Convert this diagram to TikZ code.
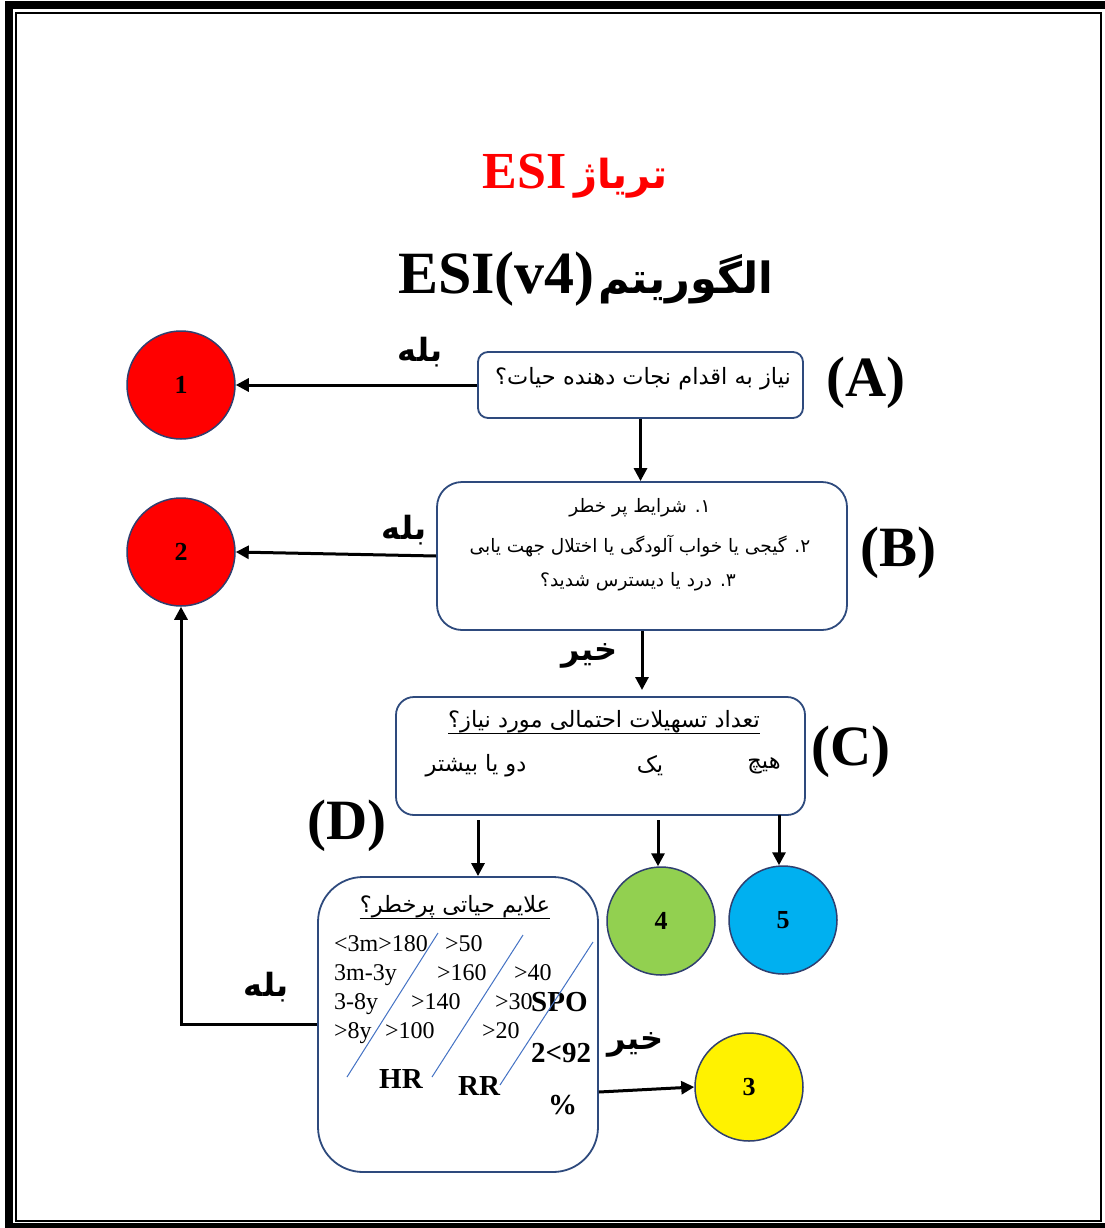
\documentclass[tikz,border=0pt]{standalone}
\usepackage{fontspec}
\setmainfont{Liberation Serif}
\newfontfamily\fa[Script=Arabic]{DejaVu Sans}
\TeXXeTstate=1
\usetikzlibrary{arrows.meta}
\definecolor{boxblue}{HTML}{2E4A7D}
\definecolor{circblue}{HTML}{2F3F6F}
\definecolor{diagblue}{HTML}{4472C4}
\definecolor{esigreen}{HTML}{92D050}
\definecolor{esicyan}{HTML}{00B0F0}
\begin{document}
\begin{tikzpicture}[x=1pt,y=-1pt,
  box/.style={draw=boxblue, line width=1.8pt, fill=white},
  circ/.style={circle, draw=circblue, line width=1.5pt, minimum size=108pt, inner sep=0pt, font=\fontsize{26}{26}\selectfont\bfseries},
  conn/.style={line width=3pt, -{Triangle[length=13pt,width=13pt]}},
  lbl/.style={font=\fontsize{57}{57}\selectfont\bfseries, inner sep=0pt},
  fatxt/.style={font=\fa\fontsize{22.5}{26}\selectfont, inner sep=0pt},
  fatxtb/.style={font=\fa\fontsize{18.5}{22}\selectfont, inner sep=0pt},
  yesno/.style={font=\fa\fontsize{32}{32}\selectfont\bfseries, inner sep=0pt},
  vt/.style={font=\fontsize{24}{24}\selectfont, anchor=base west, inner sep=0pt},
  vb/.style={font=\fontsize{29}{29}\selectfont\bfseries, anchor=base west, inner sep=0pt},
  diag/.style={draw=diagblue, line width=1pt}]
\useasboundingbox (0,0) rectangle (1104,1228);
% frame
\draw[line width=8pt] (9,5.5) rectangle (1112,1227);
\draw[line width=2pt] (15.5,13) rectangle (1101,1221);
% titles
\node[anchor=base east, inner sep=0pt, text=red, font=\fontsize{52}{52}\selectfont\bfseries] (t1a) at (567,188) {ESI};
\node[anchor=base west, inner sep=0pt, text=red, font=\fa\fontsize{40}{40}\selectfont\bfseries] (t1b) at (574,188) {\beginR تریاژ\endR};
\node[anchor=base east, inner sep=0pt, font=\fontsize{60}{60}\selectfont\bfseries] (t2a) at (595,293) {ESI(v4)};
\node[anchor=base west, inner sep=0pt, font=\fa\fontsize{43}{43}\selectfont\bfseries] (t2b) at (598,293) {\beginR الگوریتم\endR};
% boxes
\node[box, rounded corners=10pt, minimum width=325pt, minimum height=66pt] (A) at (640.5,385) {};
\node[fatxt] (At) at (643,379) {\beginR نیاز به اقدام نجات دهنده حیات؟\endR};
\node[box, rounded corners=25pt, minimum width=410pt, minimum height=148pt] (B) at (642,556) {};
\node[fatxtb] (B1) at (640,508) {\beginR ۱. شرایط پر خطر\endR};
\node[fatxtb] (B2) at (640,546) {\beginR ۲. گیجی یا خواب آلودگی یا اختلال جهت یابی\endR};
\node[fatxtb] (B3) at (638,582) {\beginR ۳. درد یا دیسترس شدید؟\endR};
\node[box, rounded corners=18pt, minimum width=409pt, minimum height=118pt] (C) at (600.5,756) {};
\node[fatxt] (Ct) at (604,722) {\beginR تعداد تسهیلات احتمالی مورد نیاز؟\endR};
\draw[line width=1pt] (Ct.south west) -- (Ct.south east);
\node[fatxt] (C1) at (764,766) {\beginR هیچ\endR};
\node[fatxt] (C2) at (650,766) {\beginR یک\endR};
\node[fatxt] (C3) at (476,766) {\beginR دو یا بیشتر\endR};
\node[box, rounded corners=45pt, minimum width=280pt, minimum height=295pt] (D) at (458,1024.5) {};
\node[fatxt] (Dt) at (455,907) {\beginR علایم حیاتی پرخطر؟\endR};
\draw[line width=1pt] (Dt.south west) -- (Dt.south east);
% vital signs
\node[vt] (r1a) at (334,951) {<3m>180};
\node[vt] (r1b) at (445,951) {>50};
\node[vt] (r2a) at (334,980) {3m-3y};
\node[vt] (r2b) at (437,980) {>160};
\node[vt] (r2c) at (514,980) {>40};
\node[vt] (r3a) at (334,1009) {3-8y};
\node[vt] (r3b) at (411,1009) {>140};
\node[vt] (r3c) at (495,1009) {>30};
\node[vb] (spo) at (531,1011) {SPO};
\node[vt] (r4a) at (334,1038) {>8y};
\node[vt] (r4b) at (385,1038) {>100};
\node[vt] (r4c) at (482,1038) {>20};
\node[vb] (s92) at (531,1062) {2<92};
\node[vb] (hr) at (379,1088) {HR};
\node[vb] (rr) at (458,1095) {RR};
\node[vb] (pc) at (548,1114) {\%};
\coordinate (l1a) at (438,933); \coordinate (l1b) at (347,1077);
\coordinate (l2a) at (523,935); \coordinate (l2b) at (432,1077);
\coordinate (l3a) at (593,942); \coordinate (l3b) at (500,1085);
\draw[diag] (l1a) -- (l1b);
\draw[diag] (l2a) -- (l2b);
\draw[diag] (l3a) -- (l3b);
% labels
\node[lbl] (LA) at (866,383) {(A)};
\node[lbl] (LB) at (898,553) {(B)};
\node[lbl] (LC) at (851,752) {(C)};
\node[lbl] (LD) at (347,826) {(D)};
% circles
\node[circ, fill=red] (c1) at (181,385) {1};
\node[circ, fill=red] (c2) at (181,552) {2};
\node[circ, fill=esigreen] (c4) at (661,921) {4};
\node[circ, fill=esicyan] (c5) at (783,920) {5};
\node[circ, fill=yellow] (c3) at (749,1087) {3};
% connectors
\draw[conn] (A.west) -- (c1.east);
\draw[conn] (A.south) -- (A.south |- B.north);
\draw[conn] (B.west) -- (c2.east);
\coordinate (bc) at (642,690);
\draw[conn] (B.south) -- (bc);
\coordinate (cd1) at (478,820);
\coordinate (cd2) at (658,820);
\coordinate (cd3) at (779,815);
\draw[conn] (cd1) -- (cd1 |- D.north);
\draw[conn] (cd2) -- (cd2 |- c4.north);
\draw[conn] (cd3) -- (cd3 |- c5.north);
\draw[conn] (D.west) -| (c2.south);
\draw[conn] ([yshift=-67.5pt]D.east) -- (c3.west);
% yes / no
\node[yesno] (y1) at (420,352) {\beginR بله\endR};
\node[yesno] (y2) at (404,530) {\beginR بله\endR};
\node[yesno] (y3) at (266,987) {\beginR بله\endR};
\node[yesno] (n1) at (590,656) {\beginR خیر\endR};
\node[yesno] (n2) at (636,1045) {\beginR خیر\endR};
\end{tikzpicture}
\end{document}
